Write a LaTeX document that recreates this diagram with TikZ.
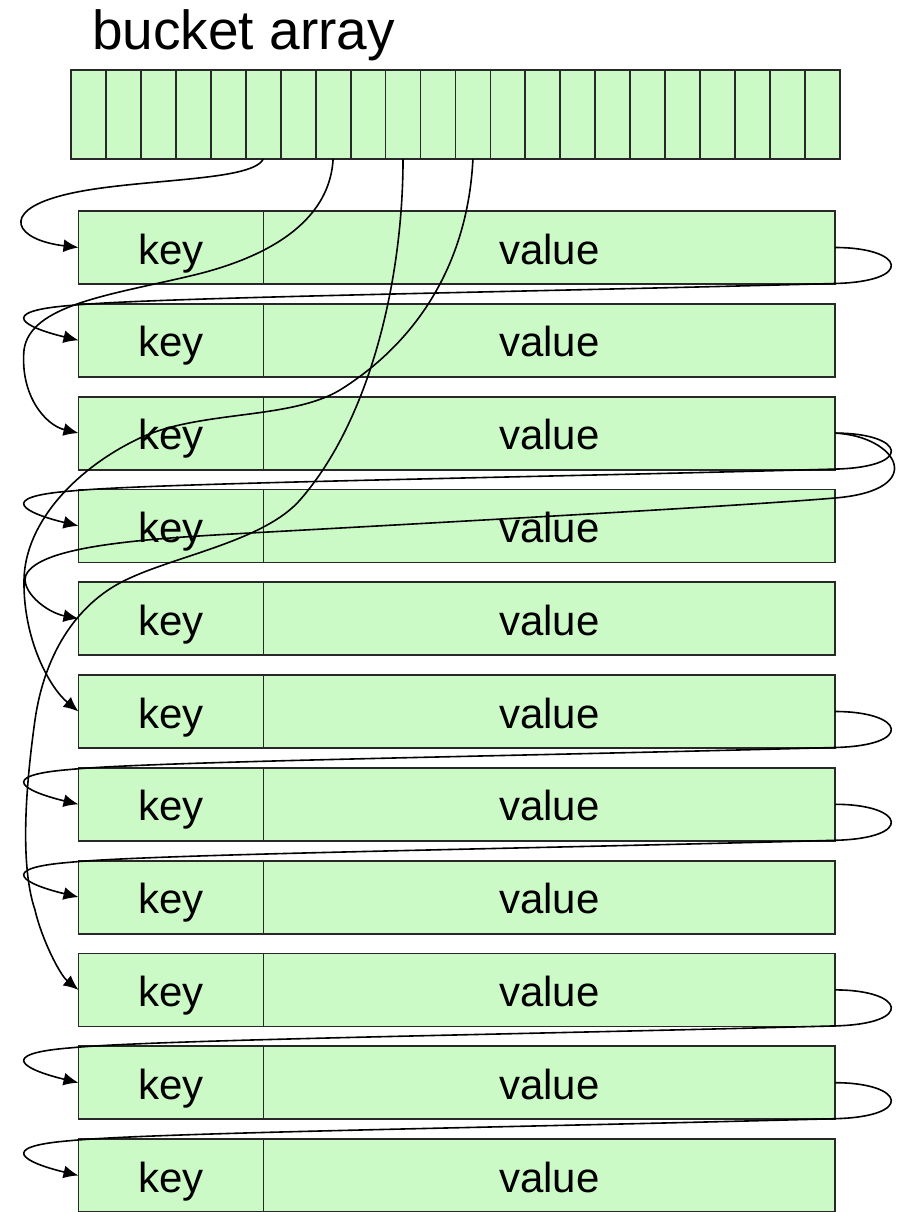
\documentclass[tikz,border=0pt]{standalone}
\usepackage{fontspec}
\setmainfont{Liberation Sans}
\usetikzlibrary{arrows.meta,calc}
\definecolor{boxgreen}{RGB}{204,250,198}
\definecolor{edgegray}{RGB}{40,40,40}
\begin{document}
\begin{tikzpicture}[x=1pt,y=-1pt,
  cellbox/.style={draw=edgegray, fill=boxgreen, line width=1.8pt, minimum width=34.95pt, minimum height=89pt, inner sep=0pt, outer sep=0pt},
  keybox/.style={draw=edgegray, fill=boxgreen, line width=1.8pt, minimum width=185pt, minimum height=73pt, inner sep=0pt, outer sep=0pt, font=\fontsize{42}{48}\selectfont, text height=33pt, text depth=0pt},
  valbox/.style={keybox, minimum width=571.5pt},
  link/.style={draw=black, line width=1.6pt, -{Latex[length=15pt,width=13pt]}},
]
\useasboundingbox (0,0) rectangle (901,1212);
\node[anchor=base west, inner sep=0pt, font=\fontsize{55}{62}\selectfont] (title) at (92,50) {bucket array};
\foreach \i in {1,...,22} {
  \node[cellbox] (c\i) at ({71+34.95*(\i-0.5)},114.5) {};
}
\foreach \i in {1,...,11} {
  \pgfmathsetmacro\yc{211+92.8*(\i-1)+36.5}
  \node[keybox] (k\i) at (171,\yc) {key};
  \node[valbox] (v\i) at (549.25,\yc) {value};
}
% chain loops
\foreach \a/\b in {1/2,3/4,6/7,7/8,9/10,10/11} {
  \draw[link] (v\a.east) .. controls ($(v\a.east)+(70,0)$) and ($(v\a.east)+(80,34)$) .. ($(v\a.east)+(0,36)$)
     .. controls ($(v\a.east)+(-335,45)$) and ($(v\a.east)+(-685,50)$) .. ($(v\a.east)+(-765,58)$)
     .. controls ($(v\a.east)+(-840,64)$) and ($(k\b.west)+(-54,-13)$) .. (k\b.west);
}
% second loop from row 3 to row 5
\draw[link] (v3.east) .. controls (897,436) and (930,490) .. (835,498)
   .. controls (740,506) and (450,522) .. (250,533)
   .. controls (150,538.5) and (40,545) .. (26,575)
   .. controls (20,590) and (45,612) .. (k5.west);
% bucket pointers
\draw[link] (c6.south) .. controls (252,183) and (125,178) .. (60,196)
   .. controls (0,212) and (15,240) .. (k1.west);
\draw[link] (c8.south) .. controls (330,215) and (280,255) .. (190,276)
   .. controls (110,295) and (30,305) .. (24,350)
   .. controls (20,395) and (45,425) .. (k3.west);
\draw[link] (c10.south) .. controls (403,280) and (370,420) .. (300,500)
   .. controls (265,540) and (180,555) .. (130,578)
   .. controls (80,600) and (45,650) .. (35,720)
   .. controls (28,770) and (18,860) .. (35,910)
   .. controls (42,940) and (60,975) .. (k9.west);
\draw[link] (c12.south) .. controls (468,260) and (420,340) .. (340,390)
   .. controls (290,420) and (200,410) .. (140,438)
   .. controls (80,466) and (25,520) .. (24,580)
   .. controls (23,640) and (50,688) .. (k6.west);
\end{tikzpicture}
\end{document}
